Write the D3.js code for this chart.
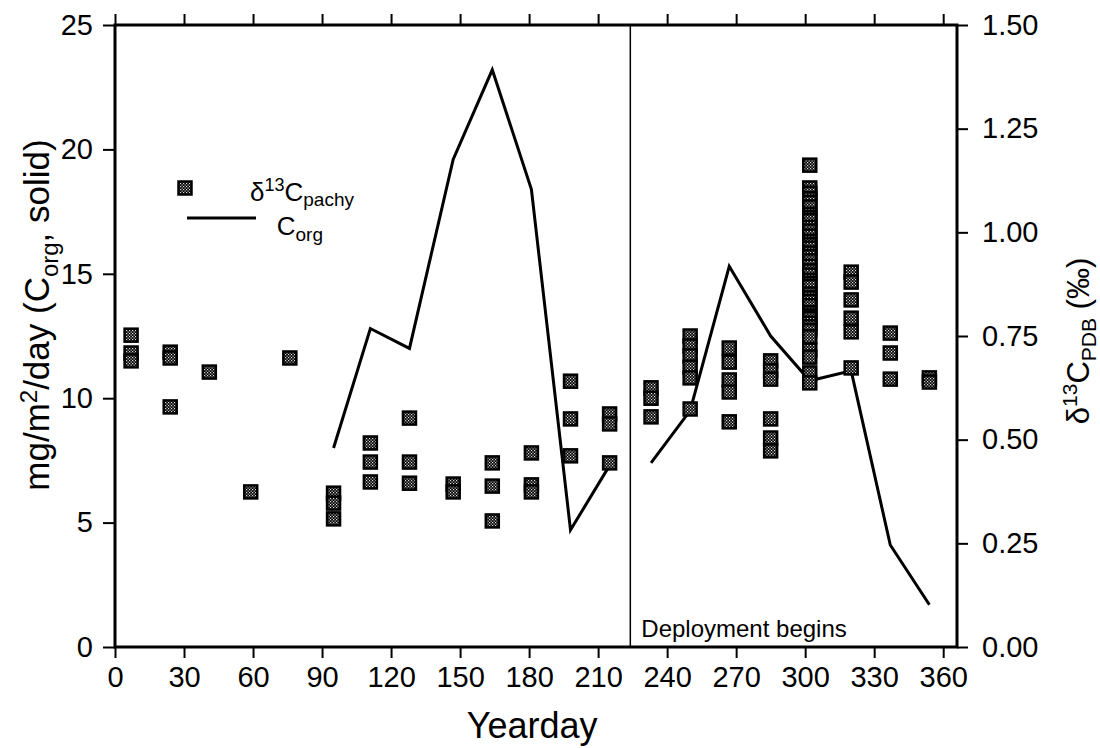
<!DOCTYPE html>
<html>
<head>
<meta charset="utf-8">
<script src="https://cdn.jsdelivr.net/npm/d3@7"></script>
<style>
  body { margin: 0; background: #fff; }
  svg { font-family: "Liberation Sans", Arial, Helvetica, sans-serif; }
  .tick text { font-size: 29px; fill: #000; }
  .tick line { stroke: #000; stroke-width: 2; }
</style>
</head>
<body>
<div class="chartdiv"></div>
<script>
// Corg flux (mg/m2/day), two segments separated by the deployment start
var corgDaysBefore = [95, 111, 128, 147, 164, 181, 198, 215];
var corgBefore = [8.0, 12.8, 12.0, 19.6, 23.2, 18.4, 4.7, 7.3];
var corgDaysAfter = [233, 250, 267, 285, 302, 320, 337, 354];
var corgAfter = [7.4, 9.5, 15.3, 12.5, 10.7, 11.1, 4.1, 1.7];

// d13C pachy (per mil), several shells per sampling day
var pachyDays = [7, 24, 41, 59, 76, 95, 111, 128, 147, 164, 181, 198, 215,
                 233, 250, 267, 285, 302, 320, 337, 354];
var pachyValues = [
  [0.752, 0.709, 0.690],
  [0.711, 0.697, 0.579],
  [0.663],
  [0.374],
  [0.697],
  [0.371, 0.347, 0.309],
  [0.492, 0.446, 0.398],
  [0.552, 0.446, 0.395],
  [0.393, 0.374],
  [0.444, 0.388, 0.304],
  [0.468, 0.391, 0.374],
  [0.641, 0.550, 0.461],
  [0.562, 0.538, 0.444],
  [0.625, 0.600, 0.555],
  [0.750, 0.726, 0.702, 0.675, 0.649, 0.574],
  [0.721, 0.687, 0.644, 0.615, 0.543],
  [0.690, 0.666, 0.646, 0.550, 0.504, 0.473],
  [1.162, 1.107, 1.094, 1.081, 1.072, 1.061, 1.043, 1.035, 1.028, 1.012, 1.003,
   0.991, 0.978, 0.970, 0.962, 0.950, 0.941, 0.931, 0.918, 0.907, 0.897, 0.884,
   0.876, 0.869, 0.851, 0.842, 0.833, 0.823, 0.806, 0.798, 0.792, 0.781, 0.772,
   0.763, 0.748, 0.716, 0.699, 0.661, 0.637],
  [0.904, 0.880, 0.837, 0.793, 0.760, 0.673],
  [0.757, 0.709, 0.646],
  [0.649, 0.639]
];

var xTicks = [0, 30, 60, 90, 120, 150, 180, 210, 240, 270, 300, 330, 360];
var leftTicks = [0, 5, 10, 15, 20, 25];
var rightTicks = [0, 0.25, 0.5, 0.75, 1.0, 1.25, 1.5];
var deploymentDay = 224;

// plot frame in page pixels
var frame = {left: 115, right: 957, top: 25, bottom: 647};

var x = d3.scaleLinear().domain([0, 366]).range([frame.left, frame.right]);
var yLeft = d3.scaleLinear().domain([0, 25]).range([frame.bottom, frame.top]);
var yRight = d3.scaleLinear().domain([0, 1.5]).range([frame.bottom, frame.top]);

var svg = d3.select(".chartdiv")
    .append("svg")
    .attr("width", 1100)
    .attr("height", 748);

// marker fill: fine speckle inside a black square
var defs = svg.append("defs");
var pat = defs.append("pattern")
    .attr("id", "chk")
    .attr("patternUnits", "userSpaceOnUse")
    .attr("width", 3)
    .attr("height", 3);
pat.append("rect").attr("width", 3).attr("height", 3).attr("fill", "#000");
pat.append("rect").attr("x", 0).attr("y", 0).attr("width", 1.2).attr("height", 1.2).attr("fill", "#ddd");
pat.append("rect").attr("x", 1.5).attr("y", 1.5).attr("width", 1.2).attr("height", 1.2).attr("fill", "#ddd");

// axes
svg.append("g")
    .attr("transform", "translate(0," + frame.bottom + ")")
    .call(d3.axisBottom(x).tickValues(xTicks).tickSize(11).tickPadding(8).tickFormat(d3.format("d")))
    .call(function(g) { g.select(".domain").remove(); });

svg.append("g")
    .attr("transform", "translate(0," + frame.top + ")")
    .call(d3.axisTop(x).tickValues(xTicks).tickSize(11).tickFormat(""))
    .call(function(g) { g.select(".domain").remove(); });

svg.append("g")
    .attr("transform", "translate(" + frame.left + ",0)")
    .call(d3.axisLeft(yLeft).tickValues(leftTicks).tickSize(12).tickPadding(10).tickFormat(d3.format("d")))
    .call(function(g) { g.select(".domain").remove(); });

svg.append("g")
    .attr("transform", "translate(" + frame.right + ",0)")
    .call(d3.axisRight(yRight).tickValues(rightTicks).tickSize(11).tickPadding(14).tickFormat(d3.format(".2f")))
    .call(function(g) { g.select(".domain").remove(); });

svg.selectAll(".tick text").attr("font-family", null);

// frame
svg.append("rect")
    .attr("x", frame.left)
    .attr("y", frame.top)
    .attr("width", frame.right - frame.left)
    .attr("height", frame.bottom - frame.top)
    .attr("fill", "none")
    .attr("stroke", "#000")
    .attr("stroke-width", 3);

// deployment line
svg.append("line")
    .attr("x1", x(deploymentDay)).attr("x2", x(deploymentDay))
    .attr("y1", frame.top).attr("y2", frame.bottom)
    .attr("stroke", "#000")
    .attr("stroke-width", 1.5);

svg.append("text")
    .attr("x", x(deploymentDay) + 11)
    .attr("y", frame.bottom - 10)
    .style("font-size", "24px")
    .text("Deployment begins");

// Corg line
var line = d3.line()
    .x(function(d) { return x(d[0]); })
    .y(function(d) { return yLeft(d[1]); });

[[corgDaysBefore, corgBefore], [corgDaysAfter, corgAfter]].forEach(function(s) {
  svg.append("path")
      .datum(d3.zip(s[0], s[1]))
      .attr("d", line)
      .attr("fill", "none")
      .attr("stroke", "#000")
      .attr("stroke-width", 3)
      .attr("stroke-linejoin", "miter");
});

// d13C markers
var points = [];
pachyDays.forEach(function(day, i) {
  pachyValues[i].forEach(function(v) { points.push({day: day, value: v}); });
});

var size = 13;
svg.selectAll(".pt")
    .data(points)
  .enter().append("rect")
    .classed("pt", true)
    .attr("x", function(d) { return x(d.day) - size / 2; })
    .attr("y", function(d) { return yRight(d.value) - size / 2; })
    .attr("width", size)
    .attr("height", size)
    .attr("fill", "url(#chk)")
    .attr("stroke", "#000")
    .attr("stroke-width", 2.5);

// legend
svg.append("rect")
    .attr("x", 185 - size / 2).attr("y", 188 - size / 2)
    .attr("width", size).attr("height", size)
    .attr("fill", "url(#chk)")
    .attr("stroke", "#000")
    .attr("stroke-width", 2.5);

svg.append("line")
    .attr("x1", 187).attr("x2", 256)
    .attr("y1", 218).attr("y2", 218)
    .attr("stroke", "#000")
    .attr("stroke-width", 3);

var leg1 = svg.append("text")
    .attr("x", 354).attr("y", 201)
    .attr("text-anchor", "end")
    .style("font-size", "26px");
leg1.append("tspan").text("δ");
leg1.append("tspan").attr("dy", -10).style("font-size", "18px").text("13");
leg1.append("tspan").attr("dy", 10).text("C");
leg1.append("tspan").attr("dy", 5).style("font-size", "19px").text("pachy");

var leg2 = svg.append("text")
    .attr("x", 323).attr("y", 235)
    .attr("text-anchor", "end")
    .style("font-size", "26px");
leg2.append("tspan").text("C");
leg2.append("tspan").attr("dy", 6).style("font-size", "19px").text("org");

// axis titles
svg.append("text")
    .attr("x", (x(0) + x(360)) / 2 + 3)
    .attr("y", 738)
    .attr("text-anchor", "middle")
    .style("font-size", "36px")
    .text("Yearday");

var lt = svg.append("text")
    .attr("transform", "translate(49,315) rotate(-90)")
    .attr("text-anchor", "middle")
    .style("font-size", "35px");
lt.append("tspan").text("mg/m");
lt.append("tspan").attr("dy", -12).style("font-size", "24px").text("2");
lt.append("tspan").attr("dy", 12).text("/day (C");
lt.append("tspan").attr("dy", 9).style("font-size", "24px").text("org");
lt.append("tspan").attr("dy", -9).text(", solid)");

var rt = svg.append("text")
    .attr("transform", "translate(1089,341) rotate(-90)")
    .attr("text-anchor", "middle")
    .style("font-size", "31px");
rt.append("tspan").text("δ");
rt.append("tspan").attr("dy", -12).style("font-size", "21px").text("13");
rt.append("tspan").attr("dy", 12).text("C");
rt.append("tspan").attr("dy", 7).style("font-size", "21px").text("PDB");
rt.append("tspan").attr("dy", -7).text(" (‰)");
</script>
</body>
</html>
